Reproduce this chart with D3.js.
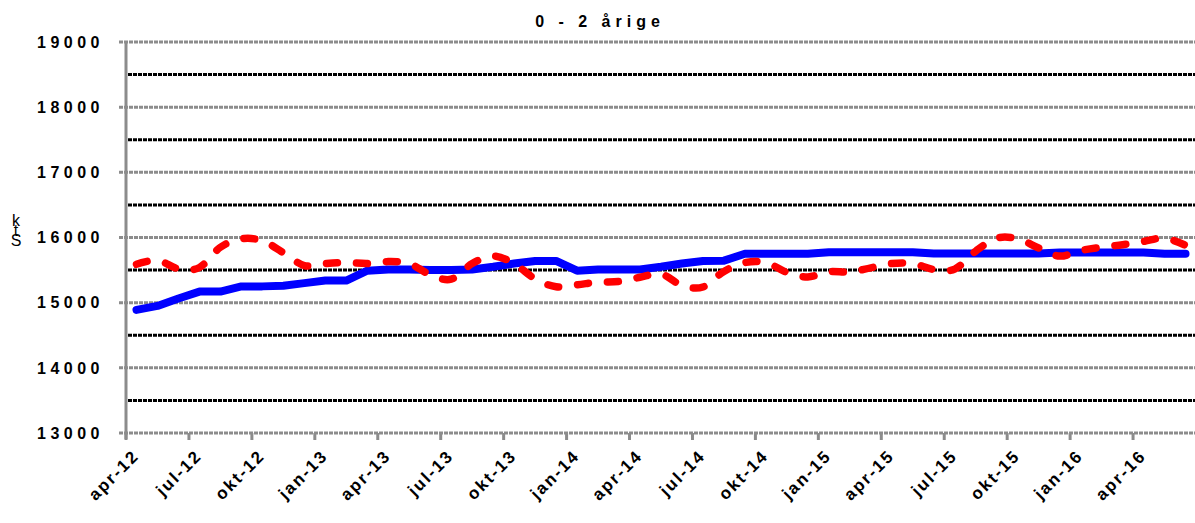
<!DOCTYPE html>
<html><head><meta charset="utf-8">
<script src="https://cdn.jsdelivr.net/npm/d3@7"></script>
<style>body{margin:0;background:#fff;} svg{display:block;}</style>
</head><body>
<svg id="c" width="1195" height="523"></svg>
<script>
const months = ["apr-12","maj-12","jun-12","jul-12","aug-12","sep-12","okt-12","nov-12","dec-12",
"jan-13","feb-13","mar-13","apr-13","maj-13","jun-13","jul-13","aug-13","sep-13","okt-13","nov-13","dec-13",
"jan-14","feb-14","mar-14","apr-14","maj-14","jun-14","jul-14","aug-14","sep-14","okt-14","nov-14","dec-14",
"jan-15","feb-15","mar-15","apr-15","maj-15","jun-15","jul-15","aug-15","sep-15","okt-15","nov-15","dec-15",
"jan-16","feb-16","mar-16","apr-16","maj-16","jun-16"];
const tickLabels = ["apr-12","jul-12","okt-12","jan-13","apr-13","jul-13","okt-13","jan-14","apr-14",
"jul-14","okt-14","jan-15","apr-15","jul-15","okt-15","jan-16","apr-16"];
const trend = [14890,14950,15065,15170,15170,15250,15250,15260,15300,15340,15340,15490,15510,15510,15500,15500,
15510,15550,15600,15640,15640,15490,15510,15510,15510,15550,15600,15640,15645,15750,15750,15750,15750,
15775,15775,15775,15775,15775,15755,15755,15755,15755,15755,15755,15770,15770,15770,15770,15770,15750,15750];
const actual = [15590,15650,15520,15540,15850,15980,15950,15765,15570,15600,15615,15600,15630,15600,15430,15360,
15600,15715,15600,15365,15245,15275,15315,15325,15390,15440,15265,15240,15480,15615,15615,15465,15395,
15475,15470,15535,15600,15600,15510,15515,15790,15990,15980,15840,15715,15800,15850,15890,15940,15990,15880];
const yTicks = [13000,14000,15000,16000,17000,18000,19000];
const yHalf = [13500,14500,15500,16500,17500,18500];
const title = "0 - 2 årige";
const yTitle = "ktS";

const svg = d3.select("#c");
const x = d3.scaleLinear().domain([0, months.length]).range([126, 1196]);
const y = d3.scaleLinear().domain([13000, 19000]).range([433, 42]);
const px = i => x(i + 0.5);
const font = "Liberation Sans, Arial, sans-serif";

// black half gridlines
svg.append("g").selectAll("line").data(yHalf).join("line")
  .attr("x1", 128).attr("x2", 1195).attr("y1", d => y(d)).attr("y2", d => y(d))
  .attr("stroke", "#000").attr("stroke-width", 3).attr("stroke-dasharray", "4,1");
// gray major gridlines (with outside tick)
svg.append("g").selectAll("line").data(yTicks).join("line")
  .attr("x1", 119).attr("x2", 1195).attr("y1", d => y(d)).attr("y2", d => y(d))
  .attr("stroke", "#8c8c8c").attr("stroke-width", 3).attr("stroke-dasharray", "4,1");
// y axis line
svg.append("line").attr("x1", 126).attr("x2", 126).attr("y1", y(19000) - 1).attr("y2", y(13000) + 6)
  .attr("stroke", "#8c8c8c").attr("stroke-width", 3);
// x ticks
const tickIdx = tickLabels.map(t => months.indexOf(t));
svg.append("g").selectAll("line").data(tickIdx).join("line")
  .attr("x1", d => x(d)).attr("x2", d => x(d)).attr("y1", y(13000)).attr("y2", y(13000) + 7)
  .attr("stroke", "#8c8c8c").attr("stroke-width", 3);

// y labels
svg.append("g").selectAll("text").data(yTicks).join("text")
  .attr("x", 104).attr("y", d => y(d)).attr("dy", "0.36em").attr("text-anchor", "end")
  .attr("font-family", font).attr("font-weight", "bold")
  .attr("font-size", 16).attr("letter-spacing", "4.5px").attr("fill", "#000")
  .text(d => d);
// x labels
svg.append("g").selectAll("text").data(tickIdx).join("text")
  .attr("transform", d => `translate(${x(d) + 14},${y(13000) + 24}) rotate(-45)`)
  .attr("text-anchor", "end")
  .attr("font-family", font).attr("font-weight", "bold")
  .attr("font-size", 17).attr("letter-spacing", "2px").attr("fill", "#000")
  .text(d => months[d]);

// title
svg.append("text").attr("x", 600).attr("y", 27).attr("text-anchor", "middle")
  .attr("font-family", font).attr("font-weight", "bold")
  .attr("font-size", 16).attr("letter-spacing", "5px").text(title);

// y axis title (stacked upright letters, one text)
svg.append("text").attr("x", 16).attr("y", 212)
  .attr("font-family", font).attr("font-size", 16)
  .style("writing-mode", "vertical-rl").style("text-orientation", "upright")
  .attr("letter-spacing", "-7px").text(yTitle);

// lines
const lineT = d3.line().x((d, i) => px(i)).y(d => y(d));
svg.append("path").datum(trend).attr("d", lineT)
  .attr("fill", "none").attr("stroke", "#0000ff").attr("stroke-width", 8)
  .attr("stroke-linejoin", "round").attr("stroke-linecap", "round");
const lineA = d3.line().x((d, i) => px(i)).y(d => y(d)).curve(d3.curveCatmullRom.alpha(0));
svg.append("path").datum(actual).attr("d", lineA)
  .attr("fill", "none").attr("stroke", "#ff0000").attr("stroke-width", 7.5)
  .attr("stroke-linecap", "round").attr("stroke-dasharray", "11,19");
</script>
</body></html>
